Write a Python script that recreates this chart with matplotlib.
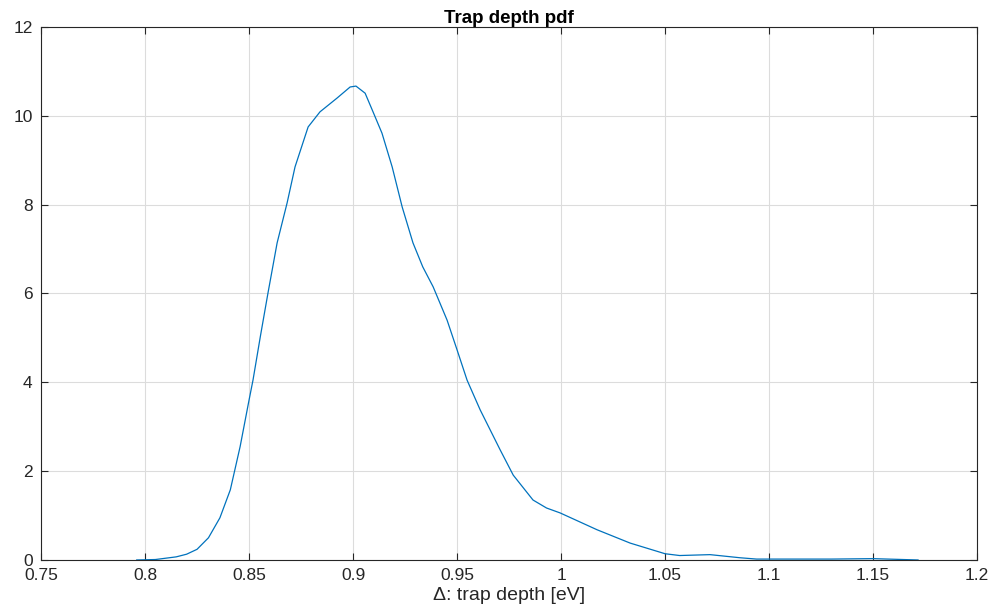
import matplotlib
matplotlib.use("Agg")
import matplotlib.pyplot as plt

# trap depth [eV] and pdf values
depth = [0.796, 0.805, 0.815, 0.820, 0.825, 0.8305, 0.836, 0.841,
         0.8457, 0.850, 0.8519, 0.8555, 0.8591, 0.8635, 0.8683, 0.8721,
         0.8784, 0.8841, 0.8923, 0.8986, 0.9014, 0.9058, 0.9096, 0.9139,
         0.9188, 0.9236, 0.9288, 0.9335, 0.9385, 0.9452, 0.950, 0.9548,
         0.9611, 0.9707, 0.977, 0.9865, 0.993, 0.9995, 1.0173, 1.0332,
         1.050, 1.057, 1.0716, 1.086, 1.094, 1.110, 1.130, 1.150, 1.1716]
pdf = [0.0, 0.01, 0.07, 0.13, 0.24, 0.50, 0.95, 1.58,
       2.55, 3.60, 4.05, 5.05, 6.01, 7.14, 8.04, 8.85,
       9.75, 10.09, 10.40, 10.65, 10.67, 10.51, 10.09, 9.61,
       8.85, 7.95, 7.14, 6.60, 6.15, 5.40, 4.73, 4.05,
       3.38, 2.48, 1.91, 1.35, 1.17, 1.06, 0.68, 0.38,
       0.14, 0.10, 0.12, 0.05, 0.02, 0.02, 0.02, 0.03, 0.0]

xticks = [0.75, 0.8, 0.85, 0.9, 0.95, 1.0, 1.05, 1.1, 1.15, 1.2]
xticklabels = ["0.75", "0.8", "0.85", "0.9", "0.95", "1", "1.05", "1.1", "1.15", "1.2"]
yticks = [0, 2, 4, 6, 8, 10, 12]

plt.rcParams['font.family'] = ['Liberation Sans', 'DejaVu Sans']

fig = plt.figure(figsize=(9.98, 6.14), dpi=100)
ax = fig.add_axes([0.0411, 0.088, 0.938, 0.868])

ax.plot(depth, pdf, color='#0072BD', linewidth=0.9)

ax.set_xlim(0.75, 1.2)
ax.set_ylim(0, 12)
ax.set_xticks(xticks)
ax.set_xticklabels(xticklabels)
ax.set_yticks(yticks)

ax.grid(True, color='#dcdcdc', linewidth=0.8)
ax.set_axisbelow(True)
ax.tick_params(direction='in', top=True, right=True, length=5, width=0.8,
               color='#262626', labelsize=12.5, labelcolor='#262626', pad=6)
for s in ax.spines.values():
    s.set_color('#262626')
    s.set_linewidth(0.8)

ax.set_xlabel('\u0394: trap depth [eV]', fontsize=14, color='#262626', labelpad=3)
ax.set_title('Trap depth pdf', fontsize=13.5, fontweight='bold', pad=3)

fig.savefig('out.png', dpi=100)
